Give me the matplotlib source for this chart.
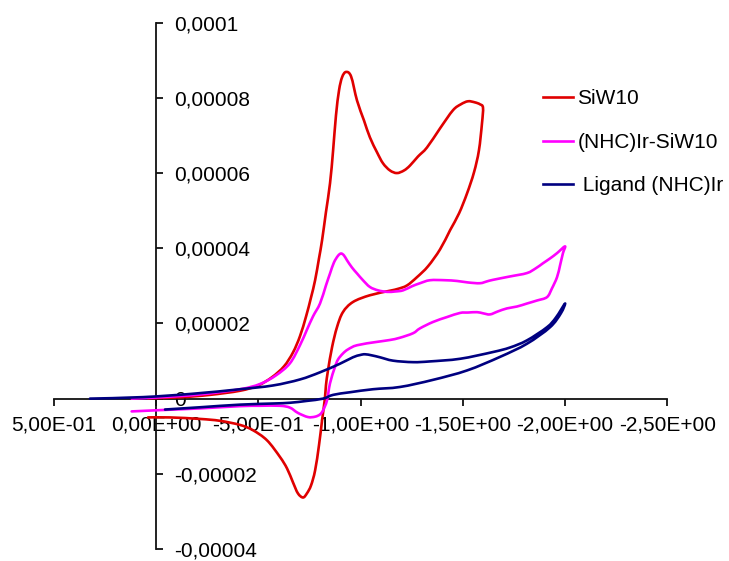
import matplotlib
matplotlib.use("Agg")
import matplotlib.pyplot as plt
from matplotlib.path import Path
from matplotlib.patches import PathPatch
from matplotlib.lines import Line2D
import numpy as np

plt.rcParams['font.family'] = ['Liberation Sans', 'DejaVu Sans']

# Cyclic voltammograms: potential (V) and current (in units of 1e-5 A)
# SiW10 – forward (cathodic) scan then return scan
siw10_E = [0.039, -0.117, -0.264, -0.411, -0.499, -0.567, -0.626, -0.670, -0.704, -0.734,
           -0.758, -0.778, -0.797, -0.812, -0.831, -0.851, -0.866, -0.880, -0.895, -0.910,
           -0.929,
           -0.954, -0.983, -1.017, -1.046, -1.081, -1.110, -1.144, -1.178, -1.213, -1.242,
           -1.281, -1.325, -1.389, -1.452, -1.491, -1.526, -1.560, -1.584, -1.599,
           -1.594, -1.579, -1.555, -1.521, -1.482, -1.438, -1.389, -1.330, -1.276, -1.227,
           -1.183, -1.144, -1.046, -0.963, -0.914, -0.885, -0.861, -0.841, -0.831, -0.826,
           -0.812, -0.797, -0.778, -0.758, -0.738, -0.719, -0.694, -0.670, -0.641, -0.606,
           -0.543, -0.474, -0.411, -0.313, -0.215, -0.068, 0.039]
siw10_I = [0.01, 0.035, 0.10, 0.21, 0.35, 0.57, 0.86, 1.23, 1.66, 2.19,
           2.69, 3.15, 3.73, 4.21, 4.96, 5.73, 6.60, 7.53, 8.20, 8.55,
           8.69,
           8.57, 7.93, 7.40, 6.95, 6.55, 6.26, 6.07, 6.00, 6.07, 6.20,
           6.44, 6.68, 7.19, 7.67, 7.83, 7.91, 7.88, 7.83, 7.74,
           7.32, 6.60, 6.02, 5.46, 4.93, 4.48, 3.97, 3.52, 3.23, 3.01,
           2.92, 2.87, 2.75, 2.57, 2.30, 1.90, 1.37, 0.75, 0.35, 0.01,
           -0.58, -1.24, -1.91, -2.31, -2.52, -2.63, -2.52, -2.23, -1.86, -1.55,
           -1.11, -0.84, -0.70, -0.59, -0.54, -0.50, -0.50]

# (NHC)Ir-SiW10
nhcsiw_E = [0.119, -0.020, -0.215, -0.411, -0.509, -0.587, -0.655, -0.704, -0.737, -0.768,
            -0.802, -0.831, -0.851, -0.870, -0.890, -0.905, -0.919, -0.934, -0.958, -0.983,
            -1.012, -1.046, -1.086, -1.130, -1.169, -1.208, -1.252, -1.291, -1.340, -1.413,
            -1.472, -1.526, -1.584, -1.619, -1.648, -1.731, -1.814, -1.858, -1.892, -1.927,
            -1.961, -2.000,
            -1.990, -1.976, -1.961, -1.936, -1.912, -1.863, -1.814, -1.765, -1.716, -1.672,
            -1.633, -1.599, -1.570, -1.526, -1.487, -1.423, -1.355, -1.291, -1.257, -1.193,
            -1.144, -1.081, -0.983, -0.939, -0.914, -0.890, -0.875, -0.851, -0.836, -0.817,
            -0.802, -0.778, -0.743, -0.694, -0.655, -0.606, -0.509, -0.411, -0.215, -0.044,
            0.119]
nhcsiw_I = [0.0, 0.035, 0.11, 0.25, 0.39, 0.62, 0.94, 1.42, 1.82, 2.19,
            2.53, 3.01, 3.33, 3.62, 3.80, 3.86, 3.81, 3.68, 3.49, 3.33,
            3.15, 2.97, 2.88, 2.84, 2.85, 2.88, 2.99, 3.07, 3.15, 3.15,
            3.13, 3.09, 3.07, 3.12, 3.16, 3.25, 3.34, 3.47, 3.60, 3.73,
            3.87, 4.05,
            3.87, 3.55, 3.23, 2.93, 2.70, 2.61, 2.53, 2.45, 2.40, 2.32,
            2.24, 2.27, 2.30, 2.29, 2.28, 2.17, 2.04, 1.87, 1.74, 1.62,
            1.56, 1.51, 1.42, 1.31, 1.20, 1.04, 0.84, 0.41, -0.05, -0.31,
            -0.42, -0.48, -0.49, -0.38, -0.24, -0.19, -0.19, -0.20, -0.26, -0.30,
            -0.34]

# Ligand (NHC)Ir
ligand_E = [0.323, 0.064, -0.181, -0.411, -0.572, -0.704, -0.802, -0.900, -0.963, -0.998,
            -1.022, -1.056, -1.095, -1.159, -1.257, -1.340, -1.487, -1.648, -1.731, -1.814,
            -1.912, -1.956, -2.000,
            -1.980, -1.927, -1.814, -1.682, -1.521, -1.355, -1.193, -1.061, -0.949, -0.866,
            -0.817, -0.738, -0.655, -0.572, -0.411, -0.215, -0.044]
ligand_I = [0.0, 0.04, 0.13, 0.25, 0.35, 0.51, 0.70, 0.93, 1.10, 1.16,
            1.18, 1.15, 1.10, 1.01, 0.97, 0.99, 1.06, 1.24, 1.36, 1.55,
            1.90, 2.16, 2.53,
            2.27, 1.90, 1.46, 1.11, 0.75, 0.50, 0.31, 0.25, 0.17, 0.10,
            0.0, -0.06, -0.11, -0.13, -0.16, -0.23, -0.29]

series_labels = ["SiW10", "(NHC)Ir-SiW10", " Ligand (NHC)Ir"]
series_colors = ["#e00000", "#ff00ff", "#000080"]

x_ticks = [0.5, 0.0, -0.5, -1.0, -1.5, -2.0, -2.5]
x_tick_labels = ["5,00E-01", "0,00E+00", "-5,00E-01", "-1,00E+00",
                 "-1,50E+00", "-2,00E+00", "-2,50E+00"]
y_ticks = [1e-4, 8e-5, 6e-5, 4e-5, 2e-5, 0.0, -2e-5, -4e-5]
y_tick_labels = ["0,0001", "0,00008", "0,00006", "0,00004", "0,00002", "0",
                 "-0,00002", "-0,00004"]

scale = 1e-5
LW = 1.9


def smooth_path(x, y):
    """Smoothed polyline through the points (cubic Bezier, Catmull-Rom tangents)."""
    p = np.column_stack([x, y])
    n = len(p)
    verts = [p[0]]
    codes = [Path.MOVETO]
    for i in range(n - 1):
        p0 = p[i - 1] if i > 0 else p[i]
        p1, p2 = p[i], p[i + 1]
        p3 = p[i + 2] if i + 2 < n else p[i + 1]
        c1 = p1 + (p2 - p0) / 6.0
        c2 = p2 - (p3 - p1) / 6.0
        verts += [c1, c2, p2]
        codes += [Path.CURVE4] * 3
    return Path(np.array(verts), codes)


fig = plt.figure(figsize=(7.29, 5.61), dpi=100)
ax = fig.add_axes([53.75 / 729, 12 / 561, 613.5 / 729, 526.3 / 561])

handles = []
for E, I, lab, col in zip([siw10_E, nhcsiw_E, ligand_E],
                          [siw10_I, nhcsiw_I, ligand_I],
                          series_labels, series_colors):
    path = smooth_path(np.asarray(E, float), np.asarray(I, float) * scale)
    patch = PathPatch(path, facecolor='none', edgecolor=col, lw=LW,
                      joinstyle='round', capstyle='round', zorder=3,
                      transform=ax.transData)
    ax.add_patch(patch)
    handles.append(Line2D([], [], color=col, lw=LW, label=lab))

ax.set_xlim(0.5, -2.5)
ax.set_ylim(-4e-5, 1e-4)

for s in ['top', 'right']:
    ax.spines[s].set_visible(False)
ax.spines['left'].set_position(('data', 0.0))
ax.spines['bottom'].set_position(('data', 0.0))
for s in ['left', 'bottom']:
    ax.spines[s].set_linewidth(1.3)
    ax.spines[s].set_color('#111111')

ax.set_xticks(x_ticks)
ax.set_xticklabels(x_tick_labels)
ax.set_yticks(y_ticks)
ax.set_yticklabels(y_tick_labels)

ax.tick_params(axis='x', direction='out', length=5, width=1.3, pad=7.5,
               labelsize=15, colors='#111111', labelcolor='black')
ax.tick_params(axis='y', direction='in', length=5, width=1.3, pad=-13,
               labelsize=15, colors='#111111', labelcolor='black')
for t in ax.get_yticklabels():
    t.set_horizontalalignment('left')

leg = ax.legend(handles=handles, loc='upper left',
                bbox_to_anchor=(543 / 729, 1 - 89.5 / 561),
                bbox_transform=fig.transFigure, frameon=False, fontsize=15,
                handlelength=1.45, handletextpad=0.2, labelspacing=1.17,
                borderpad=0, borderaxespad=0)

fig.savefig("out.png", dpi=100)
